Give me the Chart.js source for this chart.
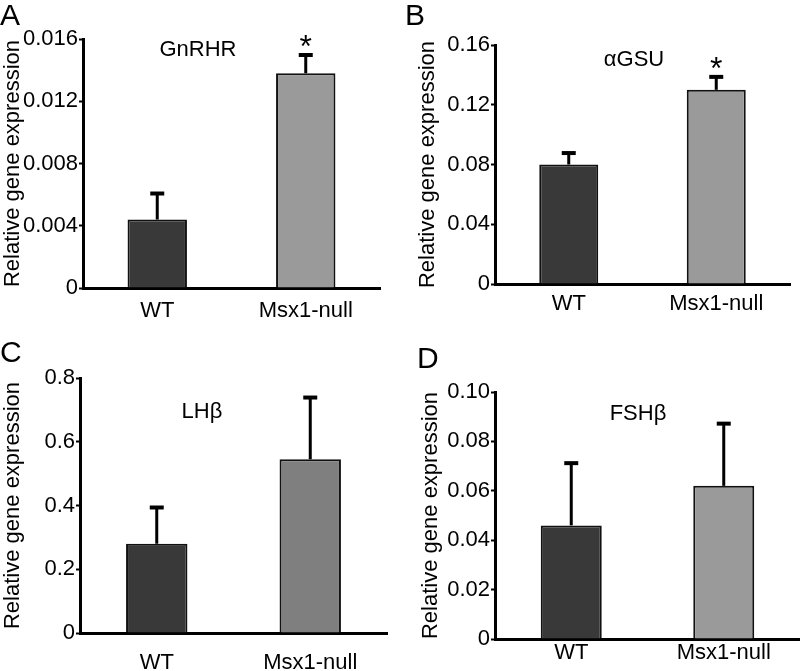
<!DOCTYPE html>
<html>
<head>
<meta charset="utf-8">
<script src="https://cdn.jsdelivr.net/npm/chart.js@4"></script>
<style>
  body { margin: 0; background: #fff; }
  #wrap { position: relative; width: 800px; height: 671px; overflow: hidden; }
  canvas { position: absolute; }
</style>
</head>
<body>
<div id="wrap">
  <canvas id="chartA" width="400" height="330" style="left:0;top:0"></canvas>
  <canvas id="chartB" width="400" height="330" style="left:400px;top:0"></canvas>
  <canvas id="chartC" width="400" height="341" style="left:0;top:330px"></canvas>
  <canvas id="chartD" width="400" height="341" style="left:400px;top:330px"></canvas>
</div>
<script>
var categories = ["WT", "Msx1-null"];

var gnrhrMean = [0.0044, 0.0138];
var gnrhrErr = [0.0018, 0.0013];
var gnrhrSig = ["", "*"];
var gnrhrTicks = ["0", "0.004", "0.008", "0.012", "0.016"];

var agsuMean = [0.080, 0.130];
var agsuErr = [0.009, 0.010];
var agsuSig = ["", "*"];
var agsuTicks = ["0", "0.04", "0.08", "0.12", "0.16"];

var lhbMean = [0.28, 0.545];
var lhbErr = [0.12, 0.20];
var lhbSig = ["", ""];
var lhbTicks = ["0", "0.2", "0.4", "0.6", "0.8"];

var fshbMean = [0.046, 0.062];
var fshbErr = [0.026, 0.026];
var fshbSig = ["", ""];
var fshbTicks = ["0", "0.02", "0.04", "0.06", "0.08", "0.10"];

var FONT = "'Liberation Sans', Arial, sans-serif";

// error bars, asterisks, gene name and panel letter
var extras = {
  id: "extras",
  afterDatasetsDraw: function(chart, args, opts) {
    var ctx = chart.ctx;
    var yScale = chart.scales.y;
    var meta = chart.getDatasetMeta(0);
    ctx.save();
    ctx.strokeStyle = "#000";
    ctx.fillStyle = "#000";
    meta.data.forEach(function(bar, i) {
      var top = yScale.getPixelForValue(opts.mean[i] + opts.err[i]);
      ctx.lineWidth = 3;
      ctx.beginPath();
      ctx.moveTo(bar.x, bar.y);
      ctx.lineTo(bar.x, top + 2);
      ctx.stroke();
      ctx.lineWidth = 4;
      ctx.beginPath();
      ctx.moveTo(bar.x - 7, top + 2);
      ctx.lineTo(bar.x + 7, top + 2);
      ctx.stroke();
      if (opts.sig[i]) {
        ctx.font = "32px " + FONT;
        ctx.textAlign = "center";
        ctx.textBaseline = "alphabetic";
        ctx.fillText(opts.sig[i], bar.x, top + 4);
      }
    });
    ctx.font = "22px " + FONT;
    ctx.textAlign = "center";
    ctx.textBaseline = "middle";
    ctx.fillText(opts.gene, opts.geneX, opts.geneY);
    ctx.font = "30px " + FONT;
    ctx.textAlign = "left";
    ctx.textBaseline = "alphabetic";
    ctx.fillText(opts.letter, opts.letterX, opts.letterY);
    ctx.restore();
  }
};

function makePanel(id, mean, err, sig, tickLabels, maxV, step, color2, box) {
  new Chart(document.getElementById(id), {
    type: "bar",
    data: {
      labels: categories,
      datasets: [{
        data: mean,
        backgroundColor: ["#393939", color2],
        borderColor: "#111",
        borderWidth: 2,
        barPercentage: 0.4,
        categoryPercentage: 1.0
      }]
    },
    options: {
      responsive: false,
      animation: false,
      layout: { padding: { top: box.top, right: box.right, left: 0, bottom: 0 } },
      plugins: {
        legend: { display: false },
        tooltip: { enabled: false },
        extras: {
          mean: mean, err: err, sig: sig,
          gene: box.gene, geneX: box.geneX, geneY: box.geneY,
          letter: box.letter, letterX: box.letterX, letterY: box.letterY
        }
      },
      scales: {
        x: {
          grid: { display: false, drawTicks: false },
          border: { display: true, color: "#000", width: 3 },
          ticks: { color: "#000", font: { size: 22, family: FONT }, padding: box.xPad, maxRotation: 0 },
          afterFit: function(s) { s.height = box.xH; }
        },
        y: {
          min: 0,
          max: maxV,
          grid: { drawOnChartArea: false, drawTicks: true, tickLength: 4, tickColor: "#000", tickWidth: 2 },
          border: { display: true, color: "#000", width: 3 },
          ticks: {
            stepSize: step,
            color: "#000",
            padding: 1,
            font: { size: 22, family: FONT },
            callback: function(v, i) { return tickLabels[i]; }
          },
          title: {
            display: true,
            text: "Relative gene expression",
            color: "#000",
            font: { size: 22, family: FONT },
            padding: { top: box.titlePad, bottom: 0 }
          },
          afterFit: function(s) { s.width = box.yW; }
        }
      }
    },
    plugins: [extras]
  });
}

makePanel("chartA", gnrhrMean, gnrhrErr, gnrhrSig, gnrhrTicks, 0.016, 0.004, "#9a9a9a",
  { top: 39, right: 20, yW: 83, xH: 42, xPad: 10, titlePad: 0,
    gene: "GnRHR", geneX: 198, geneY: 50, letter: "A", letterX: 0, letterY: 25 });

makePanel("chartB", agsuMean, agsuErr, agsuSig, agsuTicks, 0.16, 0.04, "#9a9a9a",
  { top: 45, right: 10, yW: 95, xH: 46, xPad: 7, titlePad: 15,
    gene: "\u03b1GSU", geneX: 234, geneY: 60, letter: "B", letterX: 5, letterY: 25 });

makePanel("chartC", lhbMean, lhbErr, lhbSig, lhbTicks, 0.8, 0.2, "#7f7f7f",
  { top: 48, right: 13, yW: 80, xH: 38, xPad: 17, titlePad: 0,
    gene: "LH\u03b2", geneX: 202, geneY: 82, letter: "C", letterX: 0, letterY: 32 });

makePanel("chartD", fshbMean, fshbErr, fshbSig, fshbTicks, 0.10, 0.02, "#9a9a9a",
  { top: 62, right: 0, yW: 95, xH: 32, xPad: 1, titlePad: 18,
    gene: "FSH\u03b2", geneX: 238, geneY: 84, letter: "D", letterX: 17, letterY: 38 });
</script>
</body>
</html>
